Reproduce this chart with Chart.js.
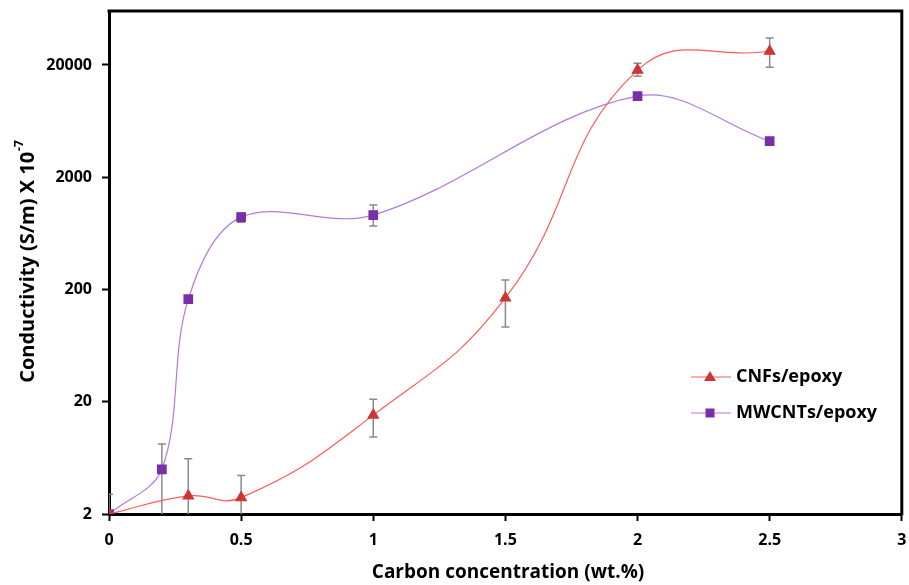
<!DOCTYPE html>
<html>
<head>
<meta charset="utf-8">
<script src="https://cdn.jsdelivr.net/npm/chart.js@4.4.0/dist/chart.umd.min.js"></script>
<style>
  html, body { margin: 0; padding: 0; background: #fff; }
  #wrap { width: 909px; height: 585px; }
</style>
</head>
<body>
<div id="wrap"><canvas id="chart" width="909" height="585"></canvas></div>
<script>
// valores
const cnfX = [0, 0.3, 0.5, 1, 1.5, 2, 2.5];
const cnfY = [2, 2.9, 2.8, 15.2, 168, 18000, 26500];
const cnfHi = [3.0, 6.2, 4.4, 21.1, 243, 20760, 34700];
const cnfLo = [2, 1, 1, 9.7, 92.5, 15900, 19100];

const mwX = [0, 0.2, 0.3, 0.5, 1, 2, 2.5];
const mwY = [2, 5.0, 164, 882, 920, 10550, 4190];
const mwHi = [2, 8.4, 164, 958, 1130, 10550, 4190];
const mwLo = [2, 1, 164, 796, 734, 10550, 4190];

const yTicks = [2, 20, 200, 2000, 20000];
const xTicks = [0, 0.5, 1, 1.5, 2, 2.5, 3];

const FONT = '"Open Sans", "Noto Sans", sans-serif';

// barras de error dibujadas con las escalas
const errorBars = {
    id: 'errorBars',
    beforeDatasetsDraw(chart) {
        const ctx = chart.ctx;
        const xs = chart.scales.x, ys = chart.scales.y;
        const a = chart.chartArea;
        const sets = [[cnfX, cnfHi, cnfLo], [mwX, mwHi, mwLo]];
        ctx.save();
        ctx.beginPath();
        ctx.rect(a.left, a.top, a.right - a.left, a.bottom - a.top);
        ctx.clip();
        ctx.strokeStyle = '#8a8a8a';
        ctx.lineWidth = 1.5;
        sets.forEach(([xv, hi, lo]) => {
            xv.forEach((x, i) => {
                if (hi[i] === lo[i]) return;
                const px = xs.getPixelForValue(x);
                const top = ys.getPixelForValue(hi[i]);
                const bot = ys.getPixelForValue(lo[i]);
                ctx.beginPath();
                ctx.moveTo(px, top); ctx.lineTo(px, bot);
                ctx.moveTo(px - 4, top); ctx.lineTo(px + 4, top);
                if (bot < a.bottom - 1) { ctx.moveTo(px - 4, bot); ctx.lineTo(px + 4, bot); }
                ctx.stroke();
            });
        });
        ctx.restore();
    }
};

// marco, titulos de ejes y leyenda
const extras = {
    id: 'extras',
    afterDraw(chart) {
        const ctx = chart.ctx;
        const a = chart.chartArea;
        ctx.save();
        // marco superior y derecho del area de trazado
        ctx.strokeStyle = '#000';
        ctx.lineWidth = 3;
        ctx.beginPath();
        ctx.moveTo(a.left - 1.5, a.top);
        ctx.lineTo(a.right, a.top);
        ctx.lineTo(a.right, a.bottom + 1.5);
        ctx.stroke();

        ctx.fillStyle = '#000';
        // titulo eje x
        ctx.font = 'bold 19px ' + FONT;
        ctx.textAlign = 'center';
        ctx.textBaseline = 'middle';
        ctx.fillText('Carbon concentration (wt.%)', 508, 573);
        // titulo eje y con exponente
        ctx.translate(28, 262);
        ctx.rotate(-Math.PI / 2);
        const main = 'Conductivity (S/m) X 10';
        const sup = '-7';
        ctx.font = 'bold 20px ' + FONT;
        const w1 = ctx.measureText(main).width;
        ctx.font = 'bold 12px ' + FONT;
        const w2 = ctx.measureText(sup).width;
        const start = -(w1 + w2) / 2;
        ctx.textAlign = 'left';
        ctx.font = 'bold 20px ' + FONT;
        ctx.fillText(main, start, 0);
        ctx.font = 'bold 12px ' + FONT;
        ctx.fillText(sup, start + w1 + 1, -8);
        ctx.restore();

        // leyenda
        const items = [
            { label: 'CNFs/epoxy', line: '#ff5a5a', fill: '#d03535', shape: 'tri', y: 377 },
            { label: 'MWCNTs/epoxy', line: '#b47ad6', fill: '#7a2fa8', shape: 'sq', y: 413 }
        ];
        ctx.save();
        items.forEach(it => {
            ctx.strokeStyle = it.line;
            ctx.lineWidth = 1.2;
            ctx.beginPath();
            ctx.moveTo(691, it.y); ctx.lineTo(731, it.y);
            ctx.stroke();
            ctx.fillStyle = it.fill;
            ctx.beginPath();
            if (it.shape === 'tri') {
                ctx.moveTo(710, it.y - 6); ctx.lineTo(716, it.y + 4); ctx.lineTo(704, it.y + 4);
                ctx.closePath(); ctx.fill();
            } else {
                ctx.fillRect(705.5, it.y - 4.5, 9, 9);
            }
            ctx.fillStyle = '#000';
            ctx.font = 'bold 18px ' + FONT;
            ctx.textAlign = 'left';
            ctx.textBaseline = 'middle';
            ctx.fillText(it.label, 736, it.y);
        });
        ctx.restore();
    }
};

const ctx = document.getElementById('chart').getContext('2d');
const chart = new Chart(ctx, {
    type: 'scatter',
    data: {
        datasets: [
            {
                label: 'CNFs/epoxy',
                data: cnfX.map((x, i) => ({ x: x, y: cnfY[i] })),
                showLine: true,
                borderColor: '#ff5a5a',
                borderWidth: 1.2,
                backgroundColor: '#d03535',
                pointBackgroundColor: '#d03535',
                pointBorderColor: '#d03535',
                pointStyle: 'triangle',
                pointRadius: 6,
                tension: 0.45
            },
            {
                label: 'MWCNTs/epoxy',
                data: mwX.map((x, i) => ({ x: x, y: mwY[i] })),
                showLine: true,
                borderColor: '#b47ad6',
                borderWidth: 1.2,
                backgroundColor: '#7a2fa8',
                pointBackgroundColor: '#7a2fa8',
                pointBorderColor: '#7a2fa8',
                pointStyle: 'rect',
                pointRadius: 6,
                tension: 0.35
            }
        ]
    },
    options: {
        responsive: false,
        animation: false,
        layout: { padding: { top: 11, right: 3, left: 0, bottom: 0 } },
        plugins: {
            legend: { display: false },
            tooltip: { enabled: false }
        },
        scales: {
            x: {
                type: 'linear',
                min: 0,
                max: 3,
                afterBuildTicks: s => { s.ticks = xTicks.map(v => ({ value: v })); },
                afterFit: s => { s.height = 71; s.paddingLeft = 0; s.paddingRight = 0; },
                border: { color: '#000', width: 3 },
                grid: { drawOnChartArea: false, color: '#000', tickLength: 7, tickWidth: 2 },
                ticks: {
                    color: '#000',
                    padding: 10,
                    font: { family: FONT, size: 16, weight: 'bold' },
                    callback: v => String(v)
                }
            },
            y: {
                type: 'logarithmic',
                min: 2,
                max: 60500,
                afterBuildTicks: s => { s.ticks = yTicks.map(v => ({ value: v })); },
                afterFit: s => { s.width = 109; s.paddingTop = 0; s.paddingBottom = 0; },
                border: { color: '#000', width: 3 },
                grid: { drawOnChartArea: false, color: '#000', tickLength: 7, tickWidth: 2 },
                ticks: {
                    color: '#000',
                    padding: 10,
                    font: { family: FONT, size: 16, weight: 'bold' },
                    callback: v => String(v)
                }
            }
        }
    },
    plugins: [errorBars, extras]
});
</script>
</body>
</html>
